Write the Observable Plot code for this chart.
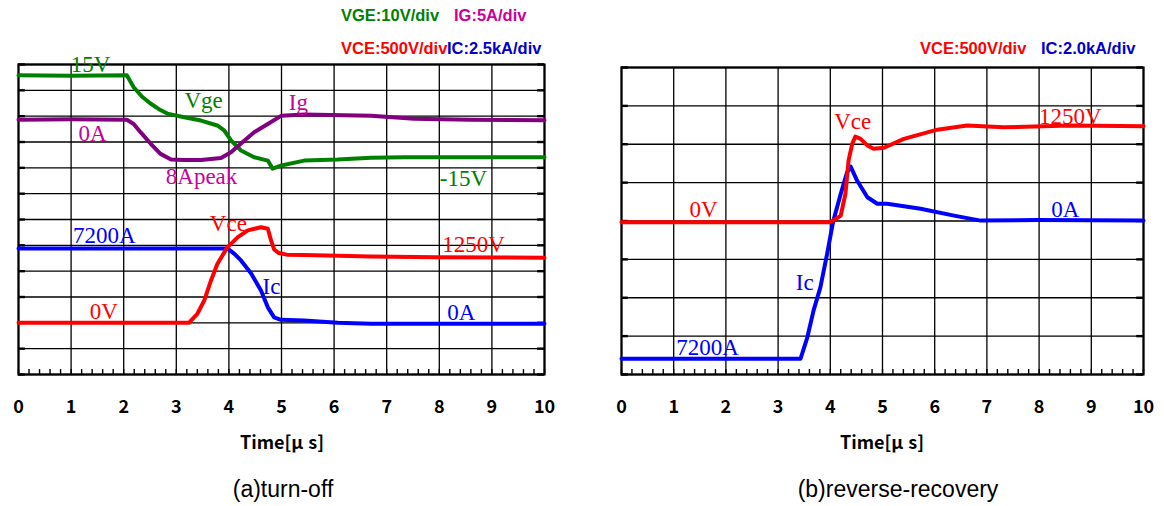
<!DOCTYPE html>
<html><head><meta charset="utf-8">
<script src="https://cdn.jsdelivr.net/npm/d3@7"></script>
<script src="https://cdn.jsdelivr.net/npm/@observablehq/plot@0.6"></script>
<style>
body{margin:0;background:#fff;}
#root{position:relative;width:1164px;height:506px;overflow:hidden;font-family:"Liberation Sans",Arial,sans-serif;background:#fff;}
#root svg{position:absolute;}
.hdr{position:absolute;font-weight:bold;font-size:16.5px;white-space:nowrap;line-height:1;}
.xl{position:absolute;font-family:"Noto Sans CJK JP",sans-serif;font-weight:bold;font-size:18px;line-height:1;transform:translate(-50%,-50%);white-space:nowrap;}
.xl .mu{margin-right:5px;}
.cap{position:absolute;font-size:23px;line-height:1;transform:translate(-50%,-50%);white-space:nowrap;}
</style></head>
<body><div id="root"></div>
<script>
// ---------- tick labels ----------
const xTicks = [0, 1, 2, 3, 4, 5, 6, 7, 8, 9, 10];

// ---------- (a) turn-off : times in µs ----------
const vgeT = [0, 1.0, 2.06, 2.19, 2.35, 2.51, 2.67, 2.83, 3.15, 3.47, 3.78, 3.91, 4.04, 4.23, 4.48, 4.74, 4.83, 5.0, 5.43, 6.07, 6.7, 7.33, 8.6, 10];
const vgeV = [15.8, 15.6, 15.8, 11.2, 7.5, 4.9, 2.7, 1.0, -0.4, -1.7, -3.6, -5.5, -9.4, -13.3, -15.9, -17.2, -20.3, -19.1, -17.2, -16.8, -16.1, -15.9, -15.9, -15.9];

const igT = [0, 1.0, 2.06, 2.19, 2.32, 2.51, 2.7, 2.9, 3.15, 3.47, 3.85, 4.04, 4.23, 4.48, 4.74, 5.0, 5.43, 6.7, 7.52, 8.6, 10];
const igA = [0, 0.1, 0, -0.8, -2.4, -4.6, -6.6, -7.7, -7.8, -7.8, -7.4, -6.3, -4.6, -2.4, -0.8, 0.8, 1.0, 0.8, 0.2, 0, -0.1];

const vceT = [0, 3.24, 3.4, 3.53, 3.66, 3.78, 3.97, 4.17, 4.36, 4.61, 4.74, 4.8, 4.86, 4.95, 5.1, 5.43, 6.7, 7.97, 10];
const vceV = [0, 0, 175, 430, 820, 1140, 1460, 1660, 1790, 1850, 1820, 1600, 1420, 1350, 1320, 1315, 1285, 1270, 1260];

const icT = [0, 3.97, 4.1, 4.23, 4.42, 4.61, 4.74, 4.86, 4.99, 5.43, 6.07, 6.7, 10];
const icA = [7200, 7200, 6700, 6040, 4800, 3130, 1500, 530, 290, 220, 0, -100, -100];

const leftLabelText = ["15V", "Vge", "Ig", "0A", "8Apeak", "-15V", "7200A", "Vce", "Ic", "1250V", "0V", "0A"];
const leftLabelCh   = ["vge", "vge", "ig", "ig", "ig", "vge", "ic", "vce", "ic", "vce", "vce", "ic"];
const leftLabelT    = [1.37, 3.52, 5.32, 1.41, 3.48, 8.46, 1.63, 3.99, 4.81, 8.65, 1.62, 8.42];
const leftLabelV    = [20.0, 6.1, 3.35, -2.65, -10.95, -24.1, 8450, 1925, 3525, 1515, 220, 1000];

// ---------- (b) reverse-recovery ----------
const vceT2 = [0, 2.0, 4.0, 4.1, 4.2, 4.29, 4.35, 4.42, 4.48, 4.58, 4.71, 4.83, 5.03, 5.41, 6.05, 6.62, 7.32, 8.6, 10];
const vceV2 = [0, 0, 0, 40, 85, 370, 805, 1020, 1115, 1085, 1000, 955, 970, 1085, 1205, 1260, 1235, 1260, 1250];

const icT2 = [0, 2.0, 3.43, 3.56, 3.68, 3.81, 3.94, 4.05, 4.2, 4.32, 4.39, 4.51, 4.71, 4.9, 5.09, 5.73, 6.37, 6.88, 7.96, 10];
const icA2 = [-7200, -7200, -7200, -6080, -4680, -3480, -1720, -100, 1400, 2500, 2820, 2100, 1220, 880, 880, 620, 260, 0, 30, 0];

const rightLabelText = ["Vce", "1250V", "0V", "0A", "Ic", "7200A"];
const rightLabelCh   = ["vce", "vce", "vce", "ic", "ic", "ic"];
const rightLabelT    = [4.43, 8.6, 1.57, 8.5, 3.51, 1.65];
const rightLabelV    = [1305, 1375, 165, 580, -3220, -6620];

// ---------- channel settings (zero position in divisions, units per division) ----------
const leftCh = {
  vge: {zero: 10.0, perDiv: 10,   stroke: "#008000", label: "#008000"},
  ig:  {zero: 9.86, perDiv: 5,    stroke: "#800080", label: "#cc0099"},
  vce: {zero: 2.0,  perDiv: 500,  stroke: "#ff0000", label: "#ff0000"},
  ic:  {zero: 2.0,  perDiv: 2500, stroke: "#0000ff", label: "#0000ff"}
};
const rightCh = {
  vce: {zero: 3.97, perDiv: 500,  stroke: "#ff0000", label: "#ff0000"},
  ic:  {zero: 4.01, perDiv: 2000, stroke: "#0000ff", label: "#0000ff"}
};

const zip = (ts, vs) => ts.map((t, i) => ({t, v: vs[i]}));

function panel(cfg) {
  const {ch, divs, traces, labels, width, height, ml, mr, mt, mb, minorLen, edgeLen} = cfg;
  const minor = d3.range(0, 51).map(i => i / 5);
  const yLines = d3.range(0, divs + 1);
  const marks = [
    Plot.gridX(xTicks, {stroke: "#000", strokeOpacity: 1, strokeWidth: 1.3}),
    Plot.gridY(yLines, {stroke: "#000", strokeOpacity: 1, strokeWidth: 1.3}),
    Plot.ruleX(minor, {y1: 0, y2: minorLen, stroke: "#000", strokeWidth: 1.4}),
    Plot.ruleY(yLines, {x1: 0, x2: edgeLen, stroke: "#000", strokeWidth: 2.4}),
    Plot.ruleY(yLines, {x1: 10 - edgeLen, x2: 10, stroke: "#000", strokeWidth: 2.4}),
    Plot.frame({stroke: "#000", strokeWidth: 2.2}),
    Plot.axisX(xTicks, {tickSize: 0, tickPadding: 26, label: null, fontSize: 18, fontWeight: "bold", fontFamily: "'Noto Sans CJK JP', sans-serif", fill: "#000"})
  ];
  for (const [key, rows] of traces) {
    const c = ch[key];
    marks.push(Plot.line(rows, {x: "t", y: d => c.zero + d.v / c.perDiv, stroke: c.stroke, strokeWidth: 4, strokeLinejoin: "round", strokeLinecap: "round"}));
  }
  marks.push(Plot.text(labels, {
    x: "t", y: d => ch[d.ch].zero + d.v / ch[d.ch].perDiv, text: "text",
    fill: d => ch[d.ch].label, fontSize: 23, fontFamily: "'Liberation Serif', 'Times New Roman', serif"
  }));
  return Plot.plot({
    width, height, marginLeft: ml, marginRight: mr, marginTop: mt, marginBottom: mb,
    x: {domain: [0, 10], axis: null, label: null},
    y: {domain: [0, divs], axis: null, label: null},
    style: {background: "transparent", overflow: "visible"},
    marks
  });
}

const root = document.getElementById("root");

const leftLabels = leftLabelText.map((text, i) => ({text, ch: leftLabelCh[i], t: leftLabelT[i], v: leftLabelV[i]}));
const rightLabels = rightLabelText.map((text, i) => ({text, ch: rightLabelCh[i], t: rightLabelT[i], v: rightLabelV[i]}));

const left = panel({
  ch: leftCh, divs: 12, width: 580, height: 430, ml: 18, mr: 36, mt: 64, mb: 56,
  minorLen: 0.19, edgeLen: 0.13,
  traces: [["vge", zip(vgeT, vgeV)], ["ig", zip(igT, igA)], ["ic", zip(icT, icA)], ["vce", zip(vceT, vceV)]],
  labels: leftLabels
});
left.style.left = "0px"; left.style.top = "0px";
root.appendChild(left);

const right = panel({
  ch: rightCh, divs: 8, width: 564, height: 430, ml: 21, mr: 21, mt: 67, mb: 56,
  minorLen: 0.13, edgeLen: 0.13,
  traces: [["ic", zip(icT2, icA2)], ["vce", zip(vceT2, vceV2)]],
  labels: rightLabels
});
right.style.left = "600px"; right.style.top = "0px";
root.appendChild(right);

// headers, axis titles and captions
function addDiv(cls, text, x, y, color) {
  const d = document.createElement("div");
  d.className = cls; d.textContent = text;
  d.style.left = x + "px"; d.style.top = y + "px";
  if (color) d.style.color = color;
  root.appendChild(d);
  return d;
}
function addTimeLabel(x, y) {
  const d = addDiv("xl", "", x, y);
  d.append("Time[");
  const mu = document.createElement("span");
  mu.className = "mu"; mu.textContent = "μ";
  d.append(mu);
  d.append("s]");
}
addDiv("hdr", "VGE:10V/div", 341, 7, "#008000");
addDiv("hdr", "IG:5A/div", 454, 7, "#cc0099");
addDiv("hdr", "VCE:500V/div", 341, 40, "#ff0000");
addDiv("hdr", "IC:2.5kA/div", 447, 40, "#0000cc");
addDiv("hdr", "VCE:500V/div", 920, 40, "#ff0000");
addDiv("hdr", "IC:2.0kA/div", 1041, 40, "#0000cc");
addTimeLabel(282, 441);
addTimeLabel(882, 441);
addDiv("cap", "(a)turn-off", 283, 489);
addDiv("cap", "(b)reverse-recovery", 898, 489);
</script>
</body></html>
